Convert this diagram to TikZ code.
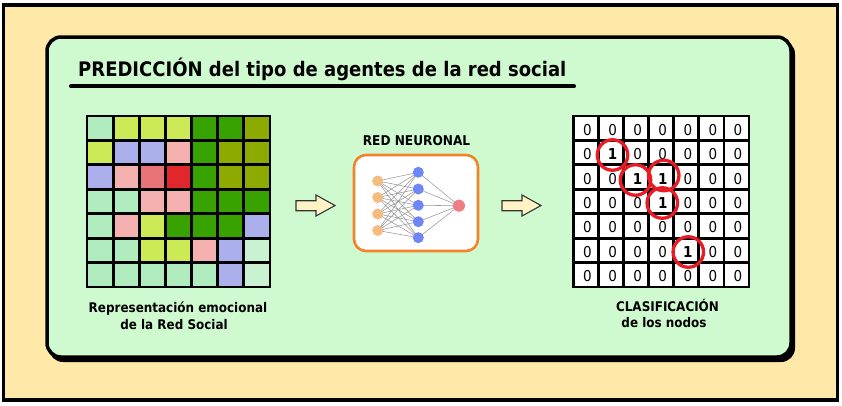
\documentclass[tikz,border=0pt]{standalone}
\usepackage{fontspec}
\setmainfont{DejaVu Sans}[FakeStretch=0.9]
\definecolor{outerbg}{RGB}{255,233,168}
\definecolor{panelbg}{RGB}{207,250,208}
\definecolor{cA}{RGB}{176,236,190}
\definecolor{cY}{RGB}{204,234,85}
\definecolor{cG}{RGB}{56,163,0}
\definecolor{cO}{RGB}{140,170,0}
\definecolor{cL}{RGB}{171,175,235}
\definecolor{cP}{RGB}{245,176,176}
\definecolor{cS}{RGB}{233,116,120}
\definecolor{cR}{RGB}{224,40,44}
\definecolor{cW}{RGB}{200,242,210}
\definecolor{nnorange}{RGB}{243,130,40}
\definecolor{inpc}{RGB}{246,187,126}
\definecolor{hidc}{RGB}{110,134,247}
\definecolor{outc}{RGB}{238,125,134}
\definecolor{ringred}{RGB}{232,28,36}
\definecolor{arrowfill}{RGB}{255,243,198}
\tikzset{
  gridline/.style={line width=2.8pt, line cap=rect},
  lbl/.style={font=\fontsize{13.3}{16}\selectfont\bfseries, inner sep=0, anchor=base},
  d0/.style={font=\fontsize{15}{17}\selectfont, inner sep=0},
  d1/.style={font=\fontsize{15}{17}\selectfont\bfseries, inner sep=0},
  ring/.style={circle, draw=ringred, line width=3.3pt, minimum size=30.5pt, inner sep=0},
  neuron/.style={circle, minimum size=11pt, inner sep=0},
  edge/.style={draw=gray!80, line width=0.55pt},
  blockarrow/.style={fill=arrowfill, draw=black!80, line width=1.1pt, line join=miter},
}
\begin{document}
\begin{tikzpicture}[x=1pt,y=-1pt]
\useasboundingbox (0,0) rectangle (842,405);
\fill[white] (0,0) rectangle (842,405);
% outer frame
\draw[fill=outerbg, line width=3.5pt] (3.5,5) rectangle (837.5,400);
% panel shadow and panel
\fill[black, rounded corners=14pt] (49,40) rectangle (795,362);
\draw[fill=panelbg, line width=3.5pt, rounded corners=14pt] (47,37) rectangle (791,357);
% title
\node[anchor=base west, font=\fontsize{20}{24}\selectfont\bfseries, inner sep=0] (title) at (78,76.5) {PREDICCIÓN del tipo de agentes de la red social};
\coordinate (ul1) at (71,86.3);
\coordinate (ul2) at (574,86.3);
\draw[line width=4pt, line cap=round] (ul1) -- (ul2);
% left grid
\foreach \row [count=\r from 0] in {{A,Y,Y,Y,G,G,O},{Y,L,L,P,G,O,O},{L,P,S,R,G,O,O},{A,A,P,P,G,G,G},{A,P,Y,G,G,G,L},{A,A,Y,Y,P,L,W},{A,A,A,A,A,L,W}}{
  \foreach \c [count=\k from 0] in \row {
    \fill[c\c] (87+\k*26.143,116+\r*24.43) rectangle ++(26.143,24.43);
  }
}
\foreach \i in {0,...,7}{
  \draw[gridline] (87+\i*26.143,116) -- (87+\i*26.143,287);
  \draw[gridline] (87,116+\i*24.43) -- (270,116+\i*24.43);
}
\node[lbl] (l1) at (178,312.5) {Representación emocional};
\node[lbl] (l2) at (174,329) {de la Red Social};
% neural net
\node[lbl, font=\fontsize{13.5}{16}\selectfont\bfseries] (nnt) at (416.5,145) {RED NEURONAL};
\draw[draw=nnorange, fill=white, line width=2.6pt, rounded corners=12pt] (354,155) rectangle (478,251);
\foreach \j/\y in {1/181,2/197.5,3/214,4/230.5}{ \coordinate (i\j) at (377.7,\y); }
\foreach \j/\y in {1/172.3,2/189,3/205.3,4/221.7,5/237.7}{ \coordinate (h\j) at (418.3,\y); }
\coordinate (o) at (459,205.7);
\foreach \a in {1,...,4}{ \foreach \b in {1,...,5}{ \draw[edge] (i\a) -- (h\b); } }
\foreach \b in {1,...,5}{ \draw[edge] (h\b) -- (o); }
\foreach \j in {1,...,4}{ \node[neuron, fill=inpc] (I\j) at (i\j) {}; }
\foreach \j in {1,...,5}{ \node[neuron, fill=hidc] (H\j) at (h\j) {}; }
\node[neuron, fill=outc, minimum size=12pt] (O) at (o) {};
% block arrows
\draw[blockarrow] (296,200.7) -- (316,200.7) -- (316,195) -- (335,205.5) -- (316,216) -- (316,210.7) -- (296,210.7) -- cycle;
\draw[blockarrow] (502,200.7) -- (522,200.7) -- (522,195) -- (541,205.5) -- (522,216) -- (522,210.7) -- (502,210.7) -- cycle;
% right grid
\fill[white] (573.5,116) rectangle (749,287);
\foreach \row [count=\r from 1] in {{0,0,0,0,0,0,0},{0,1,0,0,0,0,0},{0,0,1,1,0,0,0},{0,0,0,1,0,0,0},{0,0,0,0,0,0,0},{0,0,0,0,1,0,0},{0,0,0,0,0,0,0}}{
  \foreach \v [count=\c from 1] in \row {
    \node[d\v] (d-\r-\c) at (573.5+\c*25.07-12.54+1.5,116+\r*24.43-12.2+1.5) {\v};
  }
}
\foreach \i in {0,...,7}{
  \draw[gridline] (573.5+\i*25.07,116) -- (573.5+\i*25.07,287);
  \draw[gridline] (573.5,116+\i*24.43) -- (749,116+\i*24.43);
}
\node[ring] (k1) at (612.5,155) {};
\node[ring] (k2) at (635.5,180) {};
\node[ring] (k3) at (663.7,175.5) {};
\node[ring] (k4) at (662.3,203) {};
\node[ring] (k5) at (688.3,252) {};
\node[lbl] (r1) at (667.5,311) {CLASIFICACIÓN};
\node[lbl] (r2) at (664,327.7) {de los nodos};
\end{tikzpicture}
\end{document}
